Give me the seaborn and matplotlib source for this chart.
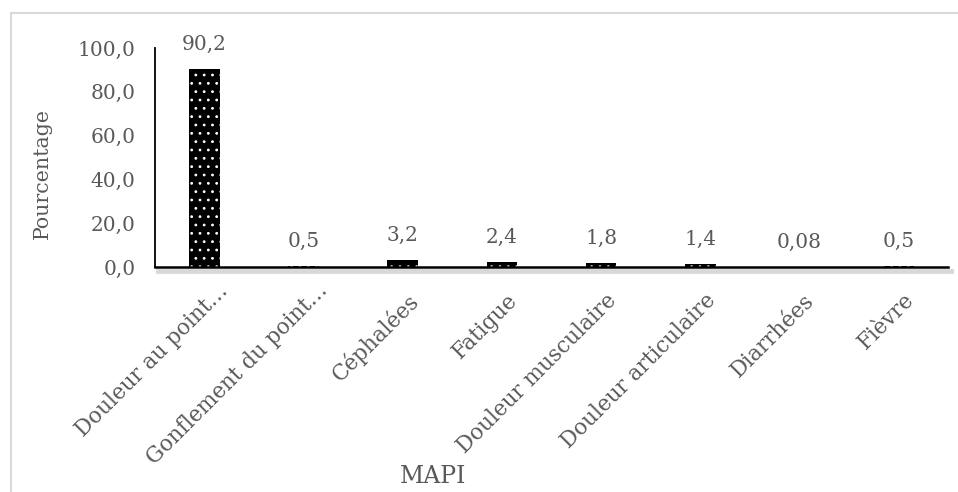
import matplotlib
matplotlib.use("Agg")
import matplotlib.pyplot as plt
import matplotlib.patheffects as pe
from matplotlib.patches import Rectangle
from matplotlib.transforms import ScaledTranslation
import pandas as pd
import seaborn as sns

# data
symptoms = ["Douleur au point…", "Gonflement du point…", "Céphalées", "Fatigue",
            "Douleur musculaire", "Douleur articulaire", "Diarrhées", "Fièvre"]
percent = [90.2, 0.5, 3.2, 2.4, 1.8, 1.4, 0.08, 0.5]
yticks = [0, 20, 40, 60, 80, 100]

GRAY = "#595959"

sns.set_style("white")
plt.rcParams["font.family"] = ["DejaVu Serif"]
plt.rcParams["hatch.linewidth"] = 0.8
plt.rcParams["hatch.color"] = "white"

df = pd.DataFrame({"MAPI": symptoms, "Pourcentage": percent})

fig = plt.figure(figsize=(9.58, 4.92), dpi=100)
ax = fig.add_axes([0.1618, 0.4573, 0.8278, 0.4451])

sns.barplot(data=df, x="MAPI", y="Pourcentage", ax=ax, color="black",
            width=0.31, saturation=1, linewidth=0, edgecolor="white")
for bar in ax.patches:
    bar.set_hatch("..")

# value labels above the bars
labels = [str(v).replace(".", ",") for v in percent]
ax.bar_label(ax.containers[0], labels=labels, padding=11, fontsize=14.5, color=GRAY)

ax.set_ylim(0, 100)
ax.set_xlim(-0.5, len(symptoms) - 0.5)
ax.set_yticks(yticks)
ax.set_yticklabels([f"{t:.1f}".replace(".", ",") for t in yticks], fontsize=14.5, color=GRAY)
ax.tick_params(axis="y", length=0, pad=14)
ax.tick_params(axis="x", length=0, pad=16)

offset = ScaledTranslation(3 / 72, 0, fig.dpi_scale_trans)
ax.set_xticks(range(len(symptoms)))
ax.set_xticklabels(symptoms, fontsize=15.5, color=GRAY, rotation=45,
                   ha="right", va="top", rotation_mode="anchor")
for lbl in ax.get_xticklabels():
    shift = offset
    if lbl.get_text().endswith("…"):
        # truncated labels sit a little higher in the original
        shift = ScaledTranslation(9 / 72, 7 / 72, fig.dpi_scale_trans)
    lbl.set_transform(lbl.get_transform() + shift)

ax.set_xlabel("MAPI", fontsize=17, color=GRAY)
ax.xaxis.set_label_coords(0.35, -0.905)
ax.set_ylabel("Pourcentage", fontsize=14.8, color=GRAY)
ax.yaxis.set_label_coords(-0.130, 0.425)

for side in ["top", "right"]:
    ax.spines[side].set_visible(False)
ax.spines["left"].set_color("black")
ax.spines["left"].set_linewidth(1.3)
ax.spines["bottom"].set_color("black")
ax.spines["bottom"].set_linewidth(1.8)
ax.spines["bottom"].set_path_effects([
    pe.SimpleLineShadow(offset=(2, -3), shadow_color="gray", alpha=0.3, linewidth=3.5),
    pe.Normal(),
])

# light chart-area frame
fig.patches.append(Rectangle((11 / 958, -0.1), 1.2, 1 - 13 / 492 + 0.1,
                             transform=fig.transFigure, fill=False,
                             edgecolor="#d9d9d9", linewidth=1.5))

fig.savefig("out.png", dpi=100)
